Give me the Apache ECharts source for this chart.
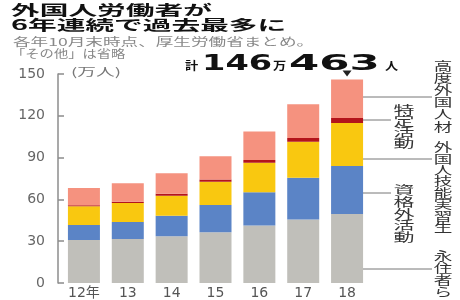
<!DOCTYPE html>
<html>
<head>
<meta charset="utf-8">
<script src="https://cdn.jsdelivr.net/npm/echarts/dist/echarts.min.js"></script>
<style>
  html, body { margin: 0; padding: 0; background: #fff; }
  #chart { width: 460px; height: 300px; }
</style>
</head>
<body>
<div id="chart"></div>
<script>
// 在留資格別 外国人労働者数（万人）
var years = ['12年', '13', '14', '15', '16', '17', '18'];
var permanent = [30.8, 31.5, 33.5, 36.5, 41.2, 45.5, 49.6];     // 永住者ら
var nonQualified = [10.8, 12.3, 14.7, 19.4, 24.0, 30.1, 34.4];  // 資格外活動
var trainees = [13.4, 13.7, 14.5, 16.8, 21.1, 25.8, 30.8];      // 外国人技能実習生
var designated = [0.8, 0.8, 1.3, 1.6, 1.9, 2.6, 3.6];           // 特定活動
var professional = [12.4, 13.3, 14.7, 16.7, 20.5, 24.2, 27.7];  // 高度外国人材
var yTicks = [0, 30, 60, 90, 120, 150];

var CJK = '"Noto Sans CJK JP", sans-serif';
var NUM = '"DejaVu Sans", "Noto Sans CJK JP", sans-serif';

function txt(text, x, y, size, opts) {
	opts = opts || {};
	return {
		type: 'text',
		x: x,
		y: y,
		scaleX: opts.scale || 1,
		silent: true,
		style: {
			text: text,
			fontSize: size,
			fontFamily: opts.family || CJK,
			fontWeight: opts.weight || 'normal',
			fill: opts.color || '#222',
			align: opts.align || 'left',
			verticalAlign: opts.valign || 'middle',
			lineHeight: opts.lineHeight
		}
	};
}

function vtext(s) {
	return s.split('').join('\n');
}

function leader(x1, x2, y) {
	return {
		type: 'line',
		silent: true,
		shape: { x1: x1, y1: y, x2: x2, y2: y },
		style: { stroke: '#777', lineWidth: 1 }
	};
}

var graphics = [
	// 見出し
	txt('外国人労働者が', 11, 10, 14, { weight: 'bold', scale: 2.05, color: '#111' }),
	txt('6年連続で過去最多に', 11, 25, 14, { weight: 'bold', scale: 2.05, color: '#111' }),
	txt('各年10月末時点、厚生労働省まとめ。', 13, 41.5, 11, { scale: 1.6, color: '#888' }),
	txt('「その他」は省略', 11, 54, 11, { scale: 1.3, color: '#888' }),
	txt('(万人)', 71, 72, 11, { scale: 1.7, color: '#777' }),
	// 合計
	txt('計', 185, 66, 11, { weight: 'bold', scale: 1.2, color: '#111' }),
	txt('146', 202, 65, 21, { weight: 'bold', family: NUM, scale: 1.6, color: '#111' }),
	txt('万', 273, 66, 11, { weight: 'bold', scale: 1.2, color: '#111' }),
	txt('463', 289, 65, 21, { weight: 'bold', family: NUM, scale: 2.07, color: '#111' }),
	txt('人', 385, 66, 11, { weight: 'bold', scale: 1.2, color: '#111' }),
	// 凡例（縦書き）
	txt(vtext('高度外国人材'), 443, 60, 12, { align: 'center', valign: 'top', lineHeight: 12.2, scale: 1.55, color: '#333' }),
	txt(vtext('特定活動'), 404, 105, 12, { align: 'center', valign: 'top', lineHeight: 11, scale: 1.75, color: '#333' }),
	txt(vtext('外国人技能実習生'), 443, 142, 12, { align: 'center', valign: 'top', lineHeight: 11.4, scale: 1.55, color: '#333' }),
	txt(vtext('資格外活動'), 404, 185, 12, { align: 'center', valign: 'top', lineHeight: 11.6, scale: 1.75, color: '#333' }),
	txt(vtext('永住者ら'), 443, 250, 12, { align: 'center', valign: 'top', lineHeight: 12, scale: 1.55, color: '#333' }),
	leader(350, 432, 97),
	leader(350, 391, 120),
	leader(350, 432, 159),
	leader(350, 391, 193),
	leader(350, 432, 269)
];

var myChart = echarts.init(document.getElementById('chart'), null, { renderer: 'canvas' });

var option = {
	backgroundColor: '#fff',
	animation: false,
	grid: { left: 62, right: 91, top: 74, bottom: 16 },
	xAxis: {
		type: 'category',
		data: years,
		axisLine: { show: false },
		axisTick: { show: false },
		axisLabel: { margin: 3, color: '#555', fontSize: 14, fontFamily: NUM }
	},
	yAxis: {
		type: 'value',
		min: yTicks[0],
		max: yTicks[yTicks.length - 1],
		interval: yTicks[1] - yTicks[0],
		offset: 4,
		axisLine: { show: true, lineStyle: { color: '#8c8c8c', width: 1.5 } },
		axisTick: { show: true, inside: true, length: 6, lineStyle: { color: '#8c8c8c', width: 1.5 } },
		splitLine: { show: false },
		axisLabel: { margin: 13, color: '#666', fontSize: 14, fontFamily: NUM }
	},
	series: [
		{ name: '永住者ら', type: 'bar', stack: 'all', barWidth: 32, data: permanent, itemStyle: { color: '#c0bfba' } },
		{ name: '資格外活動', type: 'bar', stack: 'all', data: nonQualified, itemStyle: { color: '#5b84c6' } },
		{ name: '外国人技能実習生', type: 'bar', stack: 'all', data: trainees, itemStyle: { color: '#f9c810' } },
		{ name: '特定活動', type: 'bar', stack: 'all', data: designated, itemStyle: { color: '#b3141b' } },
		{
			name: '高度外国人材', type: 'bar', stack: 'all', data: professional,
			itemStyle: { color: '#f5927f' },
			markPoint: {
				silent: true,
				symbol: 'triangle',
				symbolRotate: 180,
				symbolSize: [9, 6],
				symbolOffset: [0, -6],
				itemStyle: { color: '#222' },
				label: { show: false },
				data: [{ coord: [years.length - 1, 146.1] }]
			}
		}
	],
	graphic: graphics
};

myChart.setOption(option);
</script>
</body>
</html>
